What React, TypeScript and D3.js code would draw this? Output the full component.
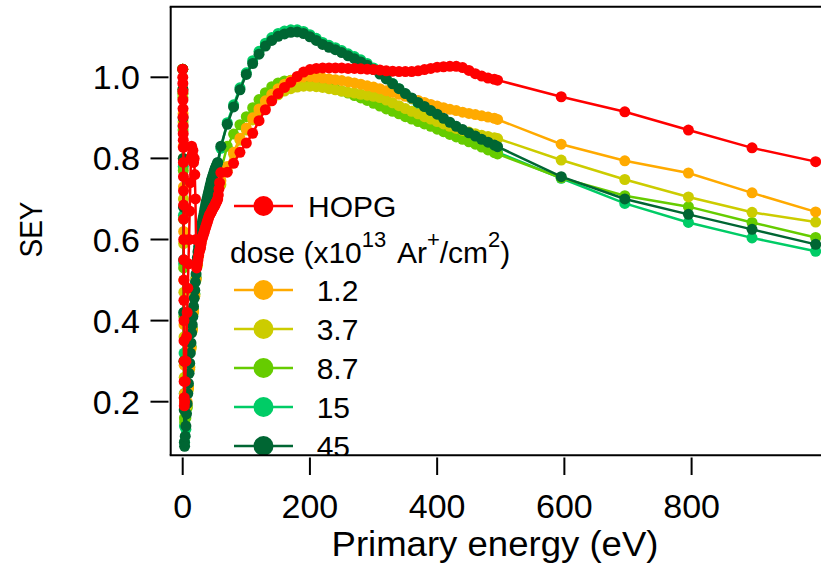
import React from "react";
import * as d3 from "d3";

// ---------- DATA ----------
const highEnergy = [60, 70, 80, 90, 100, 110, 120, 130, 140, 150, 160, 170, 180, 190, 200, 210, 220, 230, 240, 250, 260, 270, 280, 290, 300, 310, 320, 330, 340, 350, 360, 370, 380, 390, 400, 410, 420, 430, 440, 450, 460, 470, 480, 490, 495, 595, 695, 795, 895, 995];

const lowEnergyHOPG = [0, 0.1, 0.2, 0.3, 0.4, 0.5, 0.6, 0.7, 0.8, 0.9, 1.0, 1.1, 1.2, 1.3, 1.4, 1.5, 1.6, 1.7, 1.8, 1.9, 2.0, 2.1, 2.2, 2.3, 2.4, 2.5, 3, 4, 5, 6, 7, 8, 9, 10, 11, 12, 13, 14, 15, 16, 17, 18, 19, 20, 21, 22, 23, 24, 25, 26, 27, 28, 29, 30, 31, 32, 33, 34, 35, 36, 37, 38, 39, 40, 41, 42, 43, 44, 45, 46, 47, 48, 49, 50, 51, 52, 53, 54, 55, 56, 57, 58];
const lowHOPG = [1.02, 1.0, 0.985, 0.965, 0.944, 0.923, 0.902, 0.88, 0.861, 0.845, 0.827, 0.79, 0.755, 0.72, 0.685, 0.65, 0.6, 0.55, 0.5, 0.45, 0.4, 0.35, 0.3, 0.25, 0.21, 0.19, 0.2, 0.25, 0.3, 0.36, 0.42, 0.48, 0.54, 0.6, 0.67, 0.74, 0.8, 0.83, 0.81, 0.82, 0.79, 0.8, 0.76, 0.7, 0.6, 0.53, 0.54, 0.55, 0.56, 0.57, 0.575, 0.58, 0.59, 0.6, 0.605, 0.61, 0.615, 0.62, 0.625, 0.63, 0.635, 0.64, 0.645, 0.65, 0.655, 0.66, 0.662, 0.665, 0.668, 0.672, 0.675, 0.678, 0.68, 0.683, 0.686, 0.69, 0.693, 0.696, 0.7, 0.71, 0.725, 0.74];
const highHOPG = [0.765, 0.766, 0.788, 0.815, 0.838, 0.862, 0.893, 0.92, 0.942, 0.96, 0.975, 0.988, 1.002, 1.013, 1.019, 1.022, 1.023, 1.023, 1.023, 1.023, 1.022, 1.022, 1.021, 1.02, 1.019, 1.018, 1.016, 1.015, 1.014, 1.014, 1.014, 1.016, 1.019, 1.022, 1.025, 1.026, 1.027, 1.027, 1.024, 1.017, 1.009, 1.003, 0.998, 0.995, 0.993, 0.952, 0.915, 0.87, 0.826, 0.792];

const lowEnergyFine = [0, 0.3, 0.6, 0.9, 1.2, 1.5, 1.8, 2.1, 2.4, 2.7, 3, 4, 5, 6, 7, 8, 9, 10, 11, 12, 13, 14, 15, 16, 17, 18, 19, 20, 21, 22, 23, 24, 25, 26, 27, 28, 29, 30, 31, 32, 33, 34, 35, 36, 37, 38, 39, 40, 41, 42, 43, 44, 45, 46, 47, 48, 49, 50, 51, 52, 53, 54, 55];
const low45 = [1.02, 0.97, 0.9, 0.8, 0.68, 0.55, 0.42, 0.3, 0.18, 0.1, 0.09, 0.115, 0.14, 0.17, 0.195, 0.22, 0.245, 0.27, 0.295, 0.32, 0.345, 0.37, 0.39, 0.41, 0.435, 0.455, 0.475, 0.495, 0.515, 0.535, 0.555, 0.57, 0.582, 0.594, 0.605, 0.615, 0.625, 0.635, 0.644, 0.652, 0.66, 0.668, 0.677, 0.685, 0.692, 0.698, 0.705, 0.712, 0.718, 0.725, 0.732, 0.738, 0.745, 0.75, 0.755, 0.76, 0.765, 0.77, 0.775, 0.778, 0.782, 0.785, 0.79];
const high45 = [0.83, 0.884, 0.927, 0.969, 1.007, 1.034, 1.057, 1.077, 1.091, 1.101, 1.107, 1.111, 1.112, 1.108, 1.1, 1.091, 1.081, 1.074, 1.068, 1.061, 1.053, 1.046, 1.038, 1.03, 1.019, 1.008, 0.996, 0.984, 0.972, 0.96, 0.949, 0.938, 0.928, 0.918, 0.909, 0.899, 0.889, 0.879, 0.871, 0.863, 0.855, 0.847, 0.84, 0.833, 0.829, 0.755, 0.7, 0.662, 0.625, 0.588];

const lowEnergyCoarse = [0, 0.3, 0.6, 0.9, 1.2, 1.5, 1.8, 2.1, 2.4, 2.7, 3, 5, 7, 9, 11, 13, 15, 17, 19, 21, 23, 25, 27, 29, 31, 33, 35, 37, 39, 41, 43, 45, 47, 49, 51, 53, 55];
const low15 = [1.02, 0.96, 0.88, 0.78, 0.66, 0.54, 0.42, 0.32, 0.22, 0.14, 0.1, 0.132, 0.187, 0.237, 0.287, 0.337, 0.382, 0.427, 0.467, 0.507, 0.547, 0.574, 0.597, 0.617, 0.636, 0.652, 0.669, 0.684, 0.697, 0.71, 0.724, 0.737, 0.747, 0.757, 0.767, 0.774, 0.782];
const high15 = [0.825, 0.888, 0.932, 0.974, 1.011, 1.041, 1.064, 1.084, 1.098, 1.108, 1.114, 1.117, 1.117, 1.113, 1.105, 1.096, 1.086, 1.079, 1.073, 1.066, 1.058, 1.051, 1.043, 1.034, 1.023, 1.011, 0.998, 0.985, 0.972, 0.959, 0.947, 0.935, 0.924, 0.913, 0.903, 0.892, 0.881, 0.87, 0.861, 0.852, 0.843, 0.834, 0.826, 0.818, 0.815, 0.751, 0.689, 0.642, 0.604, 0.571];

const low87 = [1.02, 0.95, 0.87, 0.77, 0.65, 0.53, 0.41, 0.3, 0.21, 0.16, 0.15, 0.16, 0.185, 0.235, 0.285, 0.335, 0.38, 0.425, 0.465, 0.505, 0.54, 0.565, 0.585, 0.6, 0.615, 0.63, 0.645, 0.66, 0.675, 0.69, 0.7, 0.71, 0.72, 0.73, 0.74, 0.748, 0.755];
const high87 = [0.77, 0.83, 0.86, 0.883, 0.903, 0.925, 0.945, 0.962, 0.977, 0.986, 0.991, 0.993, 0.993, 0.991, 0.988, 0.984, 0.98, 0.976, 0.971, 0.966, 0.961, 0.955, 0.949, 0.943, 0.936, 0.929, 0.922, 0.916, 0.91, 0.903, 0.897, 0.891, 0.885, 0.879, 0.872, 0.866, 0.859, 0.853, 0.847, 0.841, 0.835, 0.828, 0.821, 0.814, 0.811, 0.752, 0.708, 0.681, 0.642, 0.605];

const low37 = [1.02, 0.96, 0.89, 0.8, 0.7, 0.59, 0.47, 0.36, 0.26, 0.2, 0.18, 0.185, 0.19, 0.23, 0.28, 0.33, 0.375, 0.42, 0.46, 0.5, 0.535, 0.56, 0.578, 0.594, 0.608, 0.622, 0.636, 0.649, 0.661, 0.673, 0.684, 0.694, 0.703, 0.711, 0.718, 0.724, 0.728];
const high37 = [0.735, 0.77, 0.81, 0.845, 0.87, 0.895, 0.915, 0.932, 0.946, 0.957, 0.966, 0.972, 0.976, 0.978, 0.978, 0.977, 0.975, 0.972, 0.969, 0.966, 0.963, 0.961, 0.958, 0.956, 0.953, 0.95, 0.944, 0.937, 0.93, 0.923, 0.916, 0.91, 0.903, 0.897, 0.891, 0.885, 0.879, 0.874, 0.869, 0.865, 0.861, 0.857, 0.854, 0.851, 0.849, 0.796, 0.748, 0.705, 0.667, 0.643];

const low12 = [1.02, 0.97, 0.91, 0.83, 0.73, 0.62, 0.5, 0.39, 0.29, 0.22, 0.2, 0.2, 0.2, 0.235, 0.283, 0.333, 0.378, 0.423, 0.463, 0.503, 0.538, 0.563, 0.582, 0.598, 0.612, 0.626, 0.64, 0.653, 0.665, 0.677, 0.688, 0.698, 0.707, 0.716, 0.724, 0.731, 0.737];
const high12 = [0.745, 0.78, 0.815, 0.85, 0.875, 0.9, 0.922, 0.942, 0.958, 0.972, 0.983, 0.992, 0.998, 1.001, 1.002, 1.0, 0.998, 0.996, 0.994, 0.992, 0.989, 0.986, 0.983, 0.979, 0.976, 0.972, 0.967, 0.963, 0.958, 0.953, 0.948, 0.943, 0.938, 0.933, 0.929, 0.925, 0.921, 0.918, 0.914, 0.911, 0.908, 0.905, 0.902, 0.899, 0.896, 0.835, 0.794, 0.764, 0.715, 0.668];

const xTickValues = [0, 200, 400, 600, 800];
const xTickLabels = ["0", "200", "400", "600", "800"];
const yTickValues = [0.2, 0.4, 0.6, 0.8, 1.0];
const yTickLabels = ["0.2", "0.4", "0.6", "0.8", "1.0"];
const doseLabels = ["1.2", "3.7", "8.7", "15", "45"];
const doseColors = ["#ffaa00", "#cccc00", "#66cc00", "#00cc66", "#006633"];
const hopgLabel = "HOPG";
const hopgColor = "#ff0000";

// ---------- LAYOUT ----------
const W = 821;
const H = 576;
const plotLeft = 170.7;
const plotTop = 6.7;
const plotBottom = 455.2;
const FONT = '"Liberation Sans", Arial, Helvetica, sans-serif';

type Pt = [number, number];

function build(lowE: number[], lowV: number[], hiV: number[]): Pt[] {
  const a: Pt[] = lowE.map((e, i) => [e, lowV[i]] as Pt);
  const b: Pt[] = highEnergy.map((e, i) => [e, hiV[i]] as Pt);
  return a.concat(b);
}

export default function App() {
  const x = d3.scaleLinear().domain([0, 800]).range([182.7, 691.6]);
  const y = d3.scaleLinear().domain([0.2, 1.0]).range([401.7, 77.3]);
  const line = d3
    .line<Pt>()
    .x((d) => x(d[0]))
    .y((d) => y(d[1]));

  // draw order (bottom to top)
  const series = [
    { key: "15", color: doseColors[3], data: build(lowEnergyCoarse, low15, high15) },
    { key: "8.7", color: doseColors[2], data: build(lowEnergyCoarse, low87, high87) },
    { key: "3.7", color: doseColors[1], data: build(lowEnergyCoarse, low37, high37) },
    { key: "1.2", color: doseColors[0], data: build(lowEnergyCoarse, low12, high12) },
    { key: "45", color: doseColors[4], data: build(lowEnergyFine, low45, high45) },
    { key: "HOPG", color: hopgColor, data: build(lowEnergyHOPG, lowHOPG, highHOPG) },
  ];

  const legendX1 = 234;
  const legendX2 = 293;
  const legendMarkX = 263.5;
  const hopgRowY = 206;
  const doseRowY = 290;
  const rowStep = 39;

  return (
    <svg
      width={W}
      height={H}
      style={{ position: "absolute", left: 0, top: 0, background: "#fff" }}
      fontFamily={FONT}
    >
      <defs>
        <clipPath id="plotClip">
          <rect x={plotLeft} y={plotTop} width={W - plotLeft + 5} height={plotBottom - plotTop} />
        </clipPath>
      </defs>
      <rect x={0} y={0} width={W} height={H} fill="#fff" />

      <g clipPath="url(#plotClip)">
        {series.map((s) => (
          <g key={s.key}>
            <path d={line(s.data) || ""} fill="none" stroke={s.color} strokeWidth={2.5} />
            {s.data.map((d, i) => (
              <circle key={i} cx={x(d[0])} cy={y(d[1])} r={5.5} fill={s.color} />
            ))}
          </g>
        ))}

        {/* legend */}
        <g>
          <line x1={legendX1} x2={legendX2} y1={hopgRowY} y2={hopgRowY} stroke={hopgColor} strokeWidth={2.5} />
          <circle cx={legendMarkX} cy={hopgRowY} r={10} fill={hopgColor} />
          <text x={308} y={hopgRowY + 10.7} fontSize={30} fill="#000">
            {hopgLabel}
          </text>
          <text x={230} y={263} fontSize={30} fill="#000">
            <tspan>dose (x10</tspan>
            <tspan dy={-16} fontSize={22}>13</tspan>
            <tspan dy={16} dx={4}> Ar</tspan>
            <tspan dy={-16} fontSize={22}>+</tspan>
            <tspan dy={16}>/cm</tspan>
            <tspan dy={-16} fontSize={22}>2</tspan>
            <tspan dy={16}>)</tspan>
          </text>
          {doseLabels.map((lab, i) => {
            const ry = doseRowY + i * rowStep;
            return (
              <g key={lab}>
                <line x1={legendX1} x2={legendX2} y1={ry} y2={ry} stroke={doseColors[i]} strokeWidth={2.5} />
                <circle cx={legendMarkX} cy={ry} r={10} fill={doseColors[i]} />
                <text x={316.7} y={ry + 11} fontSize={30} fill="#000">
                  {lab}
                </text>
              </g>
            );
          })}
        </g>
      </g>

      {/* frame */}
      <line x1={plotLeft} x2={plotLeft} y1={plotTop} y2={plotBottom} stroke="#000" strokeWidth={2} />
      <line x1={plotLeft - 1} x2={W + 2} y1={plotTop} y2={plotTop} stroke="#000" strokeWidth={2} />
      <line x1={plotLeft - 1} x2={W + 2} y1={plotBottom} y2={plotBottom} stroke="#000" strokeWidth={2} />

      {/* y axis */}
      {yTickValues.map((v, i) => (
        <g key={"y" + i}>
          <line x1={150.5} x2={168.5} y1={y(v)} y2={y(v)} stroke="#000" strokeWidth={2} />
          <text x={140} y={y(v) + 12} fontSize={34} textAnchor="end" fill="#000">
            {yTickLabels[i]}
          </text>
        </g>
      ))}
      <text
        transform={`translate(41.7,229.5) rotate(-90)`}
        fontSize={32}
        textAnchor="middle"
        textLength={56}
        lengthAdjust="spacingAndGlyphs"
        fill="#000"
      >
        SEY
      </text>

      {/* x axis */}
      {xTickValues.map((v, i) => (
        <g key={"x" + i}>
          <line x1={x(v)} x2={x(v)} y1={457.5} y2={475} stroke="#000" strokeWidth={2} />
          <text x={x(v)} y={518} fontSize={34} textAnchor="middle" fill="#000">
            {xTickLabels[i]}
          </text>
        </g>
      ))}
      <text
        x={495}
        y={556}
        fontSize={35}
        textAnchor="middle"
        textLength={327}
        lengthAdjust="spacingAndGlyphs"
        fill="#000"
      >
        Primary energy (eV)
      </text>
    </svg>
  );
}
